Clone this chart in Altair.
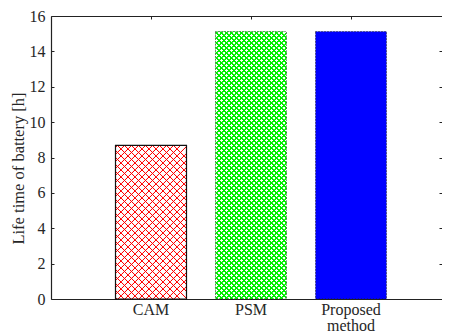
import altair as alt
import pandas as pd

categories = ["CAM", "PSM", "Proposed method"]
values = [8.68, 15.12, 15.12]
y_ticks = [0, 2, 4, 6, 8, 10, 12, 14, 16]

W, H = 391, 283
PAD_TOP, PAD_BOTTOM = 8, 37
Y_MAX = 16
P_INNER, P_OUTER, ALIGN = 0.29, 0.6, 0.5375
step = W / (len(categories) - P_INNER + 2 * P_OUTER)
bw = step * (1 - P_INNER)

FONT = "Liberation Serif"
TXT = "#262626"

df = pd.DataFrame({"method": categories, "life": values})


def stripes(w, h, period, lw, color, bg, direction, soft=0.4):
    total = w + h
    k = total / (w * w + h * h)
    if direction == 1:
        x1, y1, x2, y2 = 0, 0, k * w, k * h
    else:
        x1, y1, x2, y2 = 0, 1, k * w, 1 - k * h
    stops = [{"offset": 0, "color": bg}]
    c = 1.0
    while c + period < total:
        stops += [
            {"offset": c / total, "color": bg},
            {"offset": (c + soft) / total, "color": color},
            {"offset": (c + lw - soft) / total, "color": color},
            {"offset": (c + lw) / total, "color": bg},
        ]
        c += period
    stops.append({"offset": 1, "color": bg})
    return {"gradient": "linear", "x1": x1, "y1": y1, "x2": x2, "y2": y2, "stops": stops}


def bar_h(v):
    return v * H / Y_MAX


xscale = alt.Scale(domain=categories, paddingInner=P_INNER, paddingOuter=P_OUTER,
                   align=ALIGN, round=False)
yscale = alt.Scale(domain=[0, Y_MAX], nice=False)

x_main = alt.Axis(orient="bottom", title=None, ticks=False, labelAngle=0, labelFont=FONT,
                  labelFontSize=16, labelColor=TXT, labelPadding=2, labelBaseline="top",
                  labelExpr="split(datum.label, ' ')", labelLineHeight=16,
                  domainColor="#222", domainWidth=1.2)
y_main = alt.Axis(orient="left", title="Life time of battery [h]", values=y_ticks, ticks=False,
                  grid=False, labelFont=FONT, labelFontSize=16, labelColor=TXT, labelPadding=6,
                  titleFont=FONT, titleFontSize=16.5, titleFontWeight="normal", titleColor=TXT,
                  titleX=-33, titleY=152, titleBaseline="middle", titleAlign="center",
                  domainColor="#222", domainWidth=1.2)
x_top = alt.Axis(orient="bottom", offset=-H, title=None, labels=False, tickSize=3,
                 tickColor="#222", domainColor="#222", domainWidth=1.2)
y_leftin = alt.Axis(orient="right", offset=-W, title=None, labels=False, values=y_ticks,
                    tickSize=3, tickColor="#222", domain=False, grid=False)
y_rightin = alt.Axis(orient="left", offset=-W, title=None, labels=False, values=y_ticks,
                     tickSize=3, tickColor="#222", domain=False, grid=False)

base = alt.Chart(df)


def enc(chart, xa, ya):
    return chart.encode(
        x=alt.X("method:N", scale=xscale, sort=categories, axis=xa),
        y=alt.Y("life:Q", scale=yscale, axis=ya),
    )


h_cam = bar_h(values[0])
h_psm = bar_h(values[1])

camA = enc(base.transform_filter(alt.datum.method == categories[0]).mark_bar(
    fill=stripes(bw, h_cam, 7, 1.6, "#ff0000", "#ffffff", 1), strokeWidth=0), x_main, y_main)
camB = enc(base.transform_filter(alt.datum.method == categories[0]).mark_bar(
    fill=stripes(bw, h_cam, 7, 1.6, "#ff0000", "rgba(255,255,255,0)", 2),
    stroke="#111", strokeWidth=1.2), x_top, y_leftin)
psmA = enc(base.transform_filter(alt.datum.method == categories[1]).mark_bar(
    fill=stripes(bw, h_psm, 5, 2.6, "#00ee00", "#ffffff", 1), strokeWidth=0), None, y_rightin)
psmB = enc(base.transform_filter(alt.datum.method == categories[1]).mark_bar(
    fill=stripes(bw, h_psm, 5, 2.6, "#00ee00", "rgba(255,255,255,0)", 2),
    stroke="#333", strokeWidth=1, strokeDash=[1, 2]), None, None)
prop = enc(base.transform_filter(alt.datum.method == categories[2]).mark_bar(
    fill="#0000ff", stroke="#222", strokeWidth=1, strokeDash=[1, 2]), None, None)

chart = alt.layer(camA, camB, psmA, psmB, prop).resolve_axis(
    x="independent", y="independent"
).properties(
    width=W, height=H,
    autosize=alt.AutoSizeParams(type="none"),
    padding={"left": 43, "top": PAD_TOP, "right": 0, "bottom": PAD_BOTTOM},
).configure_view(stroke=None).configure(background="white")

chart.save("out.html", embed_options={"renderer": "svg", "actions": False})
